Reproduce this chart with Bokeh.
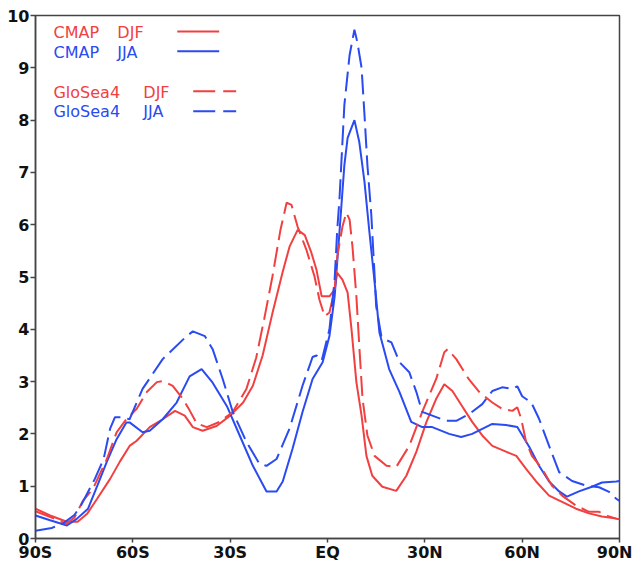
from bokeh.plotting import figure
from bokeh.models import Range1d, FixedTicker
from bokeh.embed import file_html
from bokeh.resources import INLINE
from bokeh.core.properties import value

# ---------------- data ----------------
x_ticks = [-90, -60, -30, 0, 30, 60, 90]
x_tick_labels = ["90S", "60S", "30S", "EQ", "30N", "60N", "90N"]
y_ticks = list(range(0, 11))

legend_models = ["CMAP", "CMAP", "GloSea4", "GloSea4"]
legend_seasons = ["DJF", "JJA", "DJF", "JJA"]

cmap_djf_lat = [-90, -85.5, -80.3, -77, -74, -71, -67, -64, -61, -58.8, -54.8, -50.8, -47, -44,
                -41.5, -38.5, -34.2, -30, -26, -23, -20, -17, -13.8, -11.7, -9.2, -7, -5, -3.4,
                -1.8, 0.6, 2.2, 3, 4.6, 6.2, 7.4, 8.9, 10.5, 12, 13.8, 16.9, 21.2, 24.3, 27.4,
                30.5, 33.5, 36, 38.5, 41.5, 44.6, 47.7, 50.8, 55, 58.2, 61.2, 64.3, 68.3, 72.3,
                76.6, 80.6, 84.6, 89, 90]
cmap_djf = [0.57, 0.44, 0.32, 0.32, 0.48, 0.76, 1.14, 1.47, 1.77, 1.87, 2.13, 2.28, 2.44, 2.35,
            2.13, 2.06, 2.15, 2.35, 2.6, 2.92, 3.5, 4.3, 5.1, 5.58, 5.9, 5.8, 5.47, 5.14,
            4.63, 4.63, 4.76, 5.08, 4.95, 4.7, 4.0, 2.99, 2.35, 1.58, 1.2, 0.99, 0.91, 1.2, 1.66,
            2.23, 2.67, 2.95, 2.82, 2.53, 2.23, 1.97, 1.77, 1.66, 1.58, 1.33, 1.09, 0.82, 0.7,
            0.57, 0.48, 0.42, 0.38, 0.37]

cmap_jja_lat = [-90, -85.5, -80.3, -77.2, -73.8, -71, -68, -65, -62, -61, -57, -54.8, -50.8,
                -46.5, -42.5, -38.8, -35.4, -31, -27, -23, -18.8, -15.7, -13.8, -10.8, -7.7,
                -4.6, -1.5, 0.6, 2.2, 3.7, 5.2, 6.2, 8.3, 9.8, 11.4, 12.9, 14.5, 16, 19, 22.2,
                25.8, 29.2, 32.3, 37.5, 41.2, 44.6, 50.8, 55, 58.5, 62.2, 65.2, 68.3, 71.4,
                73.8, 77.5, 81.5, 84.6, 89, 90]
cmap_jja = [0.44, 0.35, 0.25, 0.38, 0.57, 1.0, 1.47, 1.9, 2.22, 2.22, 2.03, 2.06, 2.28,
            2.6, 3.1, 3.24, 2.98, 2.53, 1.96, 1.39, 0.9, 0.9, 1.09, 1.71, 2.42,
            3.05, 3.37, 3.87, 4.63, 5.87, 7.14, 7.66, 8.0, 7.58, 6.82, 5.87, 4.91, 3.94, 3.24, 2.8,
            2.23, 2.13, 2.13, 2.0, 1.94, 2.0, 2.19, 2.17, 2.13, 1.75, 1.39, 1.09, 0.9,
            0.8, 0.9, 0.99, 1.07, 1.09, 1.1]

glosea_djf_lat = [-90, -85, -80.5, -78, -75.4, -72.3, -68, -65, -62, -58.8, -55.7, -52.6, -50.8,
                  -47.7, -44.6, -42.5, -40.3, -37.2, -33.2, -29.2, -25, -22, -19.5, -17, -14.5,
                  -12.6, -11.1, -9.2, -6.5, -4, -2.5, -0.9, 0.6, 2.2, 3, 4.6, 5.8, 6.8, 7.7, 8.9,
                  9.8, 10.8, 12.3, 14.5, 18.2, 21.2, 25.2, 29.2, 33.5, 36, 37, 39.7, 43.5, 46.8,
                  50.8, 53.8, 57, 58.5, 59.7, 61.2, 63, 66.2, 69.2, 72.3, 76.6, 80.6, 83.7, 86.8,
                  89, 90]
glosea_djf = [0.52, 0.4, 0.28, 0.4, 0.72, 0.95, 1.52, 2.03, 2.28, 2.48, 2.8, 2.99, 3.01,
              2.92, 2.67, 2.45, 2.2, 2.13, 2.23, 2.42, 2.86, 3.45, 4.2, 5.0, 5.9,
              6.42, 6.38, 5.96, 5.52, 5.01, 4.57, 4.25, 4.32, 4.76, 5.39, 5.96, 6.23, 6.1, 5.58, 4.63,
              3.68, 2.67, 1.97, 1.58, 1.39, 1.37, 1.77, 2.42, 3.05, 3.56, 3.62, 3.43, 3.05, 2.8,
              2.6, 2.48, 2.44, 2.51, 2.29, 1.85, 1.58, 1.33, 1.01, 0.82, 0.63, 0.51, 0.51, 0.42,
              0.38, 0.37]

glosea_jja_lat = [-90, -85, -81.5, -78, -76, -71.7, -69, -67, -65.5, -63.4, -61, -57, -50.8,
                  -43.4, -41.5, -37.8, -35.4, -32.3, -29.2, -25, -21, -18.8, -15.7, -11.7, -7.7,
                  -4.6, -3.4, -1.8, 0.6, 2.2, 3, 3.7, 5.2, 6.8, 8.3, 9.2, 10.5, 11.4, 12.3, 13.5,
                  14.5, 15, 16.6, 17.5, 19.7, 22.2, 25.2, 27.4, 29.2, 32.3, 36.6, 39.7, 43.7, 47.7,
                  50.8, 53.8, 57, 58.5, 60, 62.8, 65.2, 68.3, 71.4, 75.4, 79.7, 83.7, 86.8, 89, 90]
glosea_jja = [0.15, 0.2, 0.29, 0.45, 0.63, 1.14, 1.52, 2.1, 2.32, 2.32, 2.28, 2.86, 3.43,
              3.87, 3.96, 3.87, 3.62, 3.05, 2.42, 1.85, 1.43, 1.39, 1.52, 2.1, 2.92,
              3.47, 3.5, 3.4, 4.0, 4.95, 5.9, 6.5, 8.29, 9.24, 9.73, 9.49, 9.0, 8.1, 7.14, 6.19,
              5.05, 4.44, 3.87, 3.81, 3.75, 3.37, 3.18, 2.8, 2.42, 2.35, 2.25, 2.25, 2.38, 2.57,
              2.82, 2.89, 2.86, 2.91, 2.72, 2.6, 2.29, 1.77, 1.27, 1.1, 1.01, 0.98, 0.89, 0.76, 0.72]

# ---------------- style ----------------
RED = "#f24040"
BLUE = "#2a4af2"
DASH = "20 7"

p = figure(width=632, height=564, output_backend="svg", toolbar_location=None,
           x_range=Range1d(-90, 90), y_range=Range1d(0, 10),
           min_border_left=35, min_border_right=13, min_border_top=15, min_border_bottom=0)
p.background_fill_color = "white"
p.border_fill_color = "white"
p.outline_line_color = "#444444"
p.outline_line_width = 1.5
p.xgrid.visible = False
p.ygrid.visible = False

p.line(cmap_djf_lat, cmap_djf, line_color=RED, line_width=2)
p.line(cmap_jja_lat, cmap_jja, line_color=BLUE, line_width=2)
p.line(glosea_djf_lat, glosea_djf, line_color=RED, line_width=2, line_dash=DASH)
p.line(glosea_jja_lat, glosea_jja, line_color=BLUE, line_width=2, line_dash=DASH)

# axes
p.xaxis.ticker = FixedTicker(ticks=x_ticks)
p.xaxis.major_label_overrides = {t: l for t, l in zip(x_ticks, x_tick_labels)}
p.yaxis.ticker = FixedTicker(ticks=y_ticks)
for ax in (p.xaxis[0], p.yaxis[0]):
    ax.axis_line_color = "#444444"
    ax.axis_line_width = 1.5
    ax.major_tick_line_color = "#444444"
    ax.major_tick_line_width = 1.5
    ax.major_tick_in = 0
    ax.minor_tick_line_color = None
    ax.major_label_text_font = "DejaVu Sans"
    ax.major_label_text_font_style = "bold"
    ax.major_label_text_font_size = "16px"
    ax.major_label_text_color = "#111111"
p.xaxis.major_tick_out = 4
p.xaxis.major_label_standoff = 0
p.yaxis.major_tick_out = 5
p.yaxis.major_label_standoff = 1


# legend (positions given in reference-page pixels, mapped into data space)
def dx(px):
    return -90 + (px - 35) * 180.0 / 585.0


def dy(py):
    return 10 - (py - 15) * 10.0 / 525.0


legend_colors = [RED, BLUE, RED, BLUE]
legend_text_y = [32, 52, 92, 111]
legend_season_x = [117, 117, 143, 143]
legend_line_y = [31, 51, 91, 111]
legend_line_x0 = [177, 177, 193, 193]
legend_line_x1 = [219, 219, 236, 236]
legend_dash = ["solid", "solid", "22 8", "22 8"]

for model, season, col, ty, sx, ly, lx0, lx1, dsh in zip(
        legend_models, legend_seasons, legend_colors, legend_text_y, legend_season_x,
        legend_line_y, legend_line_x0, legend_line_x1, legend_dash):
    p.text(x=[dx(53), dx(sx)], y=[dy(ty), dy(ty)], text=[model, season], text_color=col,
           text_font=value("DejaVu Sans"), text_font_size="16px",
           text_baseline="middle", text_align="left")
    p.segment(x0=[dx(lx0)], y0=[dy(ly)], x1=[dx(lx1)], y1=[dy(ly)],
              line_color=col, line_width=2, line_dash=dsh)

open("out.html", "w").write(file_html(p, INLINE))
